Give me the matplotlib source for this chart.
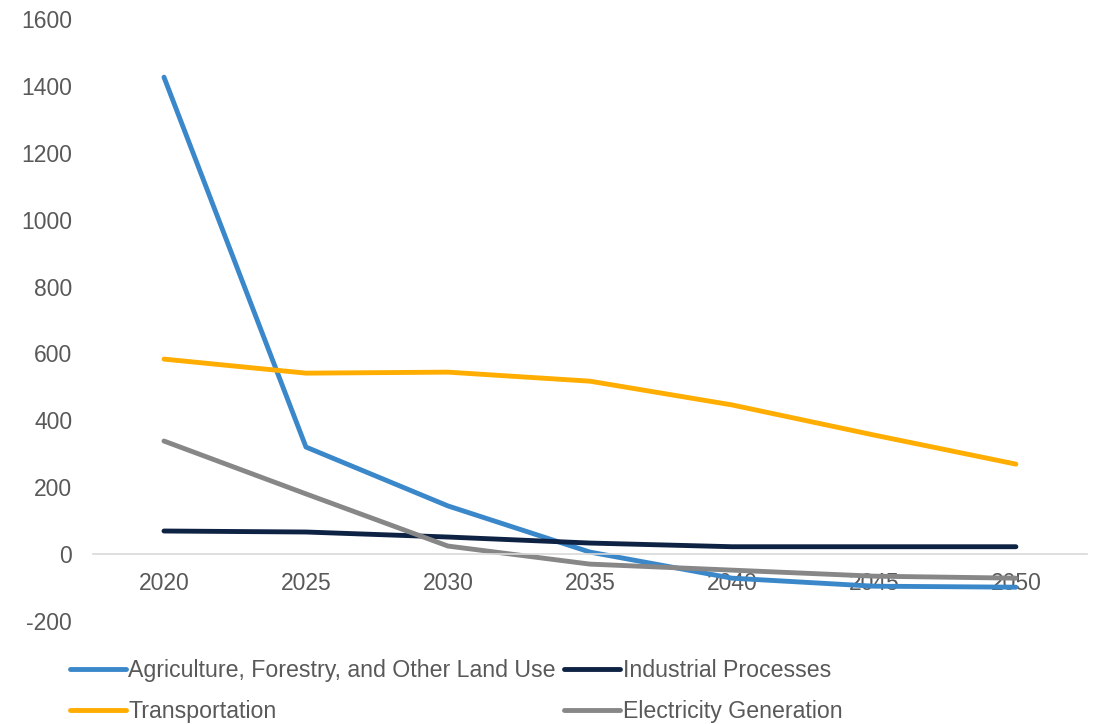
import matplotlib
matplotlib.use("Agg")
import matplotlib.pyplot as plt

plt.rcParams['font.family'] = ['Liberation Sans', 'DejaVu Sans']
plt.rcParams['axes.unicode_minus'] = False

years = ["2020", "2025", "2030", "2035", "2040", "2045", "2050"]
agriculture = [1426, 320, 144, 6, -72, -96, -99]
industrial = [69, 66, 51, 33, 22, 22, 22]
transportation = [583, 541, 544, 517, 446, 356, 269]
electricity = [338, 180, 24, -30, -48, -66, -72]

series = [
    ("Agriculture, Forestry, and Other Land Use", agriculture, "#3A88CA"),
    ("Industrial Processes", industrial, "#0E2244"),
    ("Transportation", transportation, "#FFAD00"),
    ("Electricity Generation", electricity, "#878787"),
]

fig = plt.figure(figsize=(10.94, 7.24), dpi=100)
ax = fig.add_axes([0.085, 0.1423, 0.9085, 0.8315])

x = list(range(len(years)))
handles = {}
for name, vals, col in series:
    ln, = ax.plot(x, vals, color=col, lw=3.5, solid_capstyle='round',
                  solid_joinstyle='round', label=name)
    handles[name] = ln

ax.set_xlim(-0.5, len(years) - 0.5)
ax.set_ylim(-200, 1600)
ax.set_yticks(range(-200, 1601, 200))
ax.set_xticks(x)
ax.set_xticklabels(years)

for s in ['top', 'right', 'left']:
    ax.spines[s].set_visible(False)
ax.spines['bottom'].set_position(('data', 0))
ax.spines['bottom'].set_color('#D9D9D9')
ax.spines['bottom'].set_linewidth(1.2)
ax.tick_params(axis='both', length=0, labelsize=16.5, labelcolor='#595959')
ax.tick_params(axis='y', pad=15)
ax.tick_params(axis='x', pad=13)

order = ["Agriculture, Forestry, and Other Land Use", "Transportation",
         "Industrial Processes", "Electricity Generation"]
leg = fig.legend([handles[n] for n in order], order, ncol=2,
                 loc='upper left', bbox_to_anchor=(0.064, 0.0895),
                 frameon=False, fontsize=16.7, handlelength=2.4,
                 handletextpad=0.12, columnspacing=0.35, labelspacing=0.78,
                 borderpad=0, borderaxespad=0)
for t in leg.get_texts():
    t.set_color('#595959')

fig.savefig("out.png", dpi=100)
